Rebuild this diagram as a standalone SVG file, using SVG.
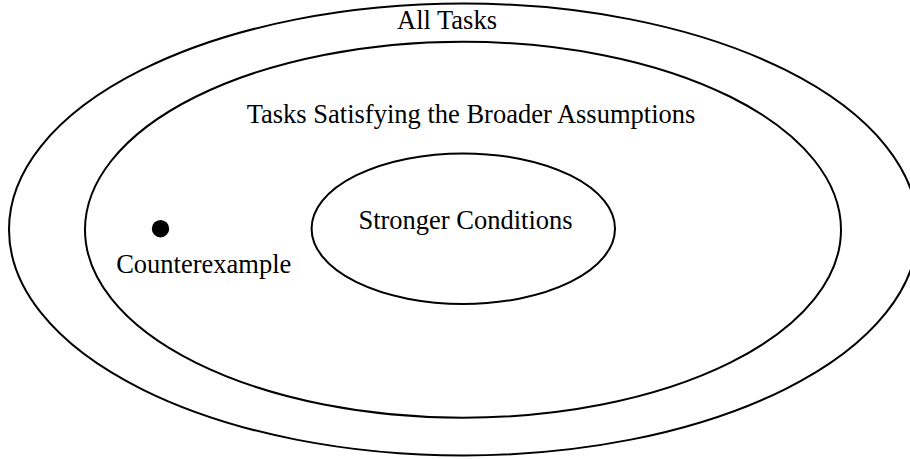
<svg xmlns="http://www.w3.org/2000/svg" width="910" height="459" viewBox="0 0 910 459">
<style>
.set{fill:none;stroke:#000;stroke-width:2}
.lbl{font-family:"Liberation Serif","Times New Roman",serif;font-size:26.5px;fill:#000;text-anchor:middle}
</style>
<rect width="910" height="459" fill="#fff"/>
<g id="all-tasks">
<ellipse class="set" cx="463.5" cy="229.5" rx="454.5" ry="226"/>
<text class="lbl" x="447" y="28.5">All Tasks</text>
</g>
<g id="broader-assumptions">
<ellipse class="set" cx="463" cy="229.7" rx="378" ry="188"/>
<text class="lbl" x="471" y="123.3">Tasks Satisfying the Broader Assumptions</text>
</g>
<g id="stronger-conditions">
<ellipse class="set" cx="463.3" cy="228.7" rx="151.7" ry="75.3"/>
<text class="lbl" x="465.5" y="229.3">Stronger Conditions</text>
</g>
<g id="counterexample">
<circle cx="160.5" cy="228.7" r="8.7" fill="#000"/>
<text class="lbl" x="203.7" y="273.3">Counterexample</text>
</g>
<g id="connectors"/>
</svg>
